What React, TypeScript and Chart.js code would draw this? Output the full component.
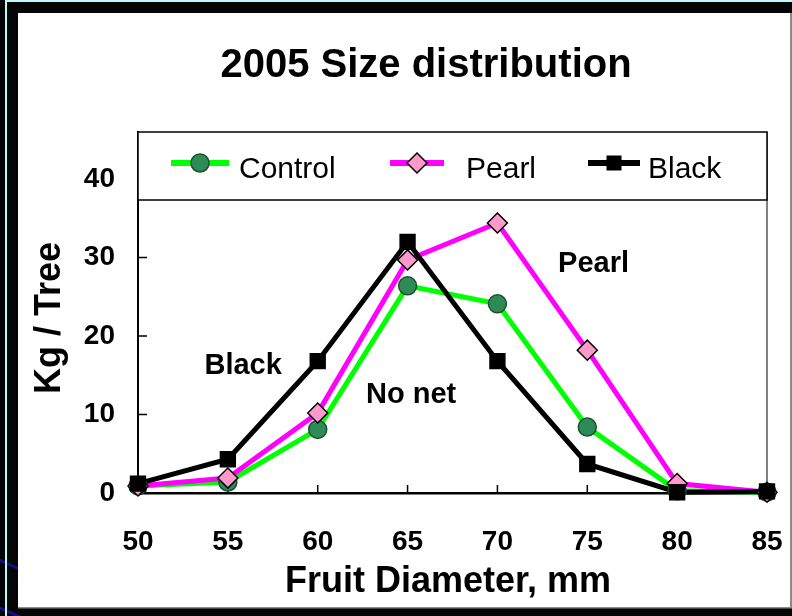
import React, { useEffect, useRef } from 'react';
import { Chart, registerables } from 'chart.js';

Chart.register(...registerables);

// ---- data ----
const categories = ['50', '55', '60', '65', '70', '75', '80', '85'];
const controlValues = [0.9, 1.4, 8.1, 26.4, 24.1, 8.4, 0.3, 0.1];
const pearlValues = [0.9, 1.9, 10.2, 29.7, 34.4, 18.2, 1.2, 0.1];
const blackValues = [1.2, 4.3, 16.8, 32.0, 16.8, 3.7, 0.1, 0.2];
const yTicks = [0, 10, 20, 30, 40];
const seriesNames = ['Control', 'Pearl', 'Black'];
const chartTitle = '2005 Size distribution';
const xTitle = 'Fruit Diameter, mm';
const yTitle = 'Kg / Tree';
const noteTexts = ['Pearl', 'Black', 'No net'];
const noteX = [5.07, 1.17, 3.04]; // category index positions
const noteY = [29.3, 16.3, 12.6];

const FONT = "'Liberation Sans', Arial, Helvetica, sans-serif";
const GREEN = '#00ff00';
const GREEN_FILL = '#2e8b57';
const GREEN_EDGE = '#1b4f30';
const PINK = '#ff00ff';
const PINK_FILL = '#ff99cc';
const BLACK = '#000000';

function drawMarker(ctx: CanvasRenderingContext2D, kind: string, x: number, y: number) {
  ctx.save();
  ctx.lineWidth = 1.5;
  if (kind === 'circle') {
    ctx.beginPath();
    ctx.arc(x, y, 9, 0, Math.PI * 2);
    ctx.fillStyle = GREEN_FILL;
    ctx.fill();
    ctx.strokeStyle = GREEN_EDGE;
    ctx.stroke();
  } else if (kind === 'diamond') {
    ctx.beginPath();
    ctx.moveTo(x - 10, y);
    ctx.lineTo(x, y - 10);
    ctx.lineTo(x + 10, y);
    ctx.lineTo(x, y + 10);
    ctx.closePath();
    ctx.fillStyle = PINK_FILL;
    ctx.fill();
    ctx.strokeStyle = BLACK;
    ctx.stroke();
  } else {
    ctx.fillStyle = BLACK;
    ctx.fillRect(x - 7.5, y - 7.5, 15, 15);
  }
  ctx.restore();
}

const decorPlugin = {
  id: 'decor',
  beforeDraw(chart: any) {
    const ctx = chart.ctx as CanvasRenderingContext2D;
    const W = chart.width;
    const H = chart.height;
    ctx.save();
    ctx.fillStyle = '#050505';
    ctx.fillRect(0, 0, W, H);
    // blue decorative strokes
    ctx.strokeStyle = '#10108a';
    ctx.lineWidth = 3;
    ctx.beginPath();
    ctx.moveTo(-10, 556);
    ctx.lineTo(40, 578);
    ctx.moveTo(-5, 606);
    ctx.lineTo(50, 630);
    ctx.stroke();
    // cyan lines
    ctx.fillStyle = '#bff8f8';
    ctx.fillRect(5, 0, W - 5, 2);
    ctx.fillRect(5, 0, 2, H);
    // white panel
    ctx.fillStyle = '#ffffff';
    ctx.fillRect(18, 13, 772, 594);
    ctx.fillStyle = '#8a8a8a';
    ctx.fillRect(790, 13, 2, 595);
    ctx.fillRect(18, 607, 774, 1.5);
    ctx.restore();
  },
  beforeDatasetsDraw(chart: any) {
    const ctx = chart.ctx as CanvasRenderingContext2D;
    const a = chart.chartArea;
    const xs = chart.scales.x;
    const ys = chart.scales.y;
    ctx.save();
    // plot right border
    ctx.strokeStyle = '#808080';
    ctx.lineWidth = 2;
    ctx.beginPath();
    ctx.moveTo(a.right, a.top);
    ctx.lineTo(a.right, a.bottom);
    ctx.stroke();
    // inside tick marks
    ctx.strokeStyle = BLACK;
    ctx.lineWidth = 1.5;
    ctx.beginPath();
    yTicks.forEach((v) => {
      if (v === 0) return;
      const py = ys.getPixelForValue(v);
      ctx.moveTo(a.left, py);
      ctx.lineTo(a.left + 9, py);
    });
    categories.forEach((_, i) => {
      const px = xs.getPixelForValue(i);
      ctx.moveTo(px, a.bottom);
      ctx.lineTo(px, a.bottom - 8);
    });
    ctx.stroke();
    ctx.restore();
  },
  afterDatasetsDraw(chart: any) {
    const ctx = chart.ctx as CanvasRenderingContext2D;
    const a = chart.chartArea;
    const xs = chart.scales.x;
    const ys = chart.scales.y;
    ctx.save();
    // legend box
    ctx.fillStyle = '#ffffff';
    ctx.fillRect(a.left, a.top, a.right - a.left, 68);
    ctx.strokeStyle = BLACK;
    ctx.lineWidth = 1.5;
    ctx.strokeRect(a.left, a.top, a.right - a.left, 68);
    const legendItems = [
      { color: GREEN, kind: 'circle', x0: 171, x1: 229, tx: 239 },
      { color: PINK, kind: 'diamond', x0: 390, x1: 444, tx: 466 },
      { color: BLACK, kind: 'square', x0: 588, x1: 640, tx: 648 },
    ];
    legendItems.forEach((it, i) => {
      ctx.strokeStyle = it.color;
      ctx.lineWidth = 6;
      ctx.beginPath();
      ctx.moveTo(it.x0, 163);
      ctx.lineTo(it.x1, 163);
      ctx.stroke();
      drawMarker(ctx, it.kind, (it.x0 + it.x1) / 2, 163);
      ctx.fillStyle = BLACK;
      ctx.font = `30px ${FONT}`;
      ctx.textAlign = 'left';
      ctx.textBaseline = 'alphabetic';
      ctx.fillText(seriesNames[i], it.tx, 178);
    });
    // annotations
    ctx.fillStyle = BLACK;
    ctx.font = `bold 29px ${FONT}`;
    ctx.textAlign = 'center';
    ctx.textBaseline = 'middle';
    noteTexts.forEach((t, i) => {
      ctx.fillText(t, xs.getPixelForValue(noteX[i]), ys.getPixelForValue(noteY[i]) + 1);
    });
    // chart title
    ctx.font = `bold 40px ${FONT}`;
    ctx.textBaseline = 'alphabetic';
    ctx.fillText(chartTitle, 426, 77);
    // x title
    ctx.font = `bold 36px ${FONT}`;
    ctx.fillText(xTitle, 448, 592);
    // y title
    ctx.translate(60, 318);
    ctx.rotate(-Math.PI / 2);
    ctx.font = `bold 36px ${FONT}`;
    ctx.fillText(yTitle, 0, 0);
    ctx.restore();
  },
};

export default function App() {
  const canvasRef = useRef<HTMLCanvasElement | null>(null);

  useEffect(() => {
    if (!canvasRef.current) return;
    const tickFont = { family: FONT, size: 28, weight: 'bold' as const };
    const lineDs = (label: string, data: number[], color: string, order: number) => ({
      label,
      data,
      borderColor: color,
      backgroundColor: color,
      borderWidth: 5,
      pointRadius: 0,
      tension: 0,
      fill: false,
      order,
      clip: false as any,
    });
    const markerDs = (
      label: string,
      data: number[],
      style: any,
      radius: number,
      fillC: string,
      edgeC: string,
      order: number
    ) => ({
      label,
      data,
      showLine: false,
      pointStyle: style,
      pointRadius: radius,
      pointBackgroundColor: fillC,
      pointBorderColor: edgeC,
      pointBorderWidth: 1.5,
      order,
      clip: false as any,
    });
    const chart = new Chart(canvasRef.current, {
      type: 'line',
      data: {
        labels: categories,
        datasets: [
          lineDs(seriesNames[0], controlValues, GREEN, 6),
          lineDs(seriesNames[1], pearlValues, PINK, 5),
          lineDs(seriesNames[2], blackValues, BLACK, 4),
          markerDs(seriesNames[0], controlValues, 'circle', 9, GREEN_FILL, GREEN_EDGE, 3),
          markerDs(seriesNames[1], pearlValues, 'rectRot', 10, PINK_FILL, BLACK, 2),
          markerDs(seriesNames[2], blackValues, 'rect', 10.5, BLACK, BLACK, 1),
        ] as any,
      },
      options: {
        responsive: false,
        animation: false,
        layout: { padding: { left: 18, top: 132, right: 25, bottom: 0 } },
        plugins: {
          legend: { display: false },
          tooltip: { enabled: false },
          title: { display: false },
        },
        scales: {
          x: {
            type: 'category',
            offset: false,
            grid: { display: false, drawTicks: false },
            border: { display: true, color: BLACK, width: 2.5 },
            ticks: {
              font: tickFont,
              color: BLACK,
              padding: 32,
              maxRotation: 0,
              autoSkip: false,
            },
            afterFit: (s: any) => {
              s.height = 123;
              s.paddingLeft = 0;
              s.paddingRight = 0;
            },
          },
          y: {
            type: 'linear',
            min: 0,
            max: 46,
            grid: { display: false, drawTicks: false },
            border: { display: true, color: BLACK, width: 2 },
            ticks: { font: tickFont, color: BLACK, padding: 23 },
            afterBuildTicks: (s: any) => {
              s.ticks = yTicks.map((v) => ({ value: v }));
            },
            afterFit: (s: any) => {
              s.width = 120;
              s.paddingTop = 0;
              s.paddingBottom = 0;
            },
          },
        },
      } as any,
      plugins: [decorPlugin],
    });
    return () => chart.destroy();
  }, []);

  return (
    <div style={{ position: 'absolute', left: 0, top: 0, width: 792, height: 616 }}>
      <canvas ref={canvasRef} width={792} height={616} style={{ display: 'block' }} />
    </div>
  );
}
